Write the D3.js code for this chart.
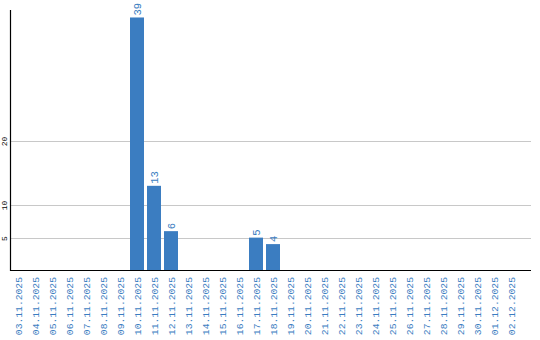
<!DOCTYPE html>
<html>
<head>
<meta charset="utf-8">
<script src="https://cdn.jsdelivr.net/npm/d3@7"></script>
<style>
  body { margin: 0; background: #fff; }
  svg { display: block; }
</style>
</head>
<body>
<div id="chart"></div>
<script>
// categories (dates) and values
var dates = ["03.11.2025","04.11.2025","05.11.2025","06.11.2025","07.11.2025","08.11.2025",
             "09.11.2025","10.11.2025","11.11.2025","12.11.2025","13.11.2025","14.11.2025",
             "15.11.2025","16.11.2025","17.11.2025","18.11.2025","19.11.2025","20.11.2025",
             "21.11.2025","22.11.2025","23.11.2025","24.11.2025","25.11.2025","26.11.2025",
             "27.11.2025","28.11.2025","29.11.2025","30.11.2025","01.12.2025","02.12.2025"];
var counts = [0,0,0,0,0,0,0,39,13,6,0,0,0,0,5,4,0,0,0,0,0,0,0,0,0,0,0,0,0,0];
var yTicks = [5, 10, 20];

var width = 540, height = 340;
var box = {x1: 10.5, x2: 531, y1: 10, y2: 270};
var blue = "#3b7dc1";
var mono = "'Liberation Mono', 'Courier New', monospace";

var svg = d3.select("#chart").append("svg")
  .attr("width", width).attr("height", height);

var x = d3.scaleBand().domain(dates)
  .range([9.5, 9.5 + 17 * dates.length])
  .paddingInner(3/17).paddingOuter(3/34);
var y = d3.scaleLinear().domain([0, 40]).range([box.y2, box.y1 + 1]);

// grid lines
svg.append("g").selectAll("line").data(yTicks).enter().append("line")
  .attr("x1", box.x1).attr("x2", box.x2)
  .attr("y1", function(d){ return Math.round(y(d)) + 0.5; })
  .attr("y2", function(d){ return Math.round(y(d)) + 0.5; })
  .attr("stroke", "#c8c8c8").attr("stroke-width", 1);

// y tick labels (rotated)
svg.append("g").selectAll("text").data(yTicks).enter().append("text")
  .attr("transform", function(d){ return "translate(7," + (Math.round(y(d)) + 0.5) + ") rotate(-90)"; })
  .attr("text-anchor", "middle")
  .style("font-family", mono).style("font-size", "8px")
  .attr("fill", "#000")
  .text(function(d){ return d; });

// bars
svg.append("g").selectAll("rect").data(counts).enter().append("rect")
  .attr("x", function(d, i){ return x(dates[i]); })
  .attr("width", x.bandwidth())
  .attr("y", function(d){ return y(d); })
  .attr("height", function(d){ return box.y2 - y(d); })
  .attr("fill", blue);

// value labels
svg.append("g").selectAll("text").data(counts.map(function(d, i){ return {v: d, k: dates[i]}; })
    .filter(function(d){ return d.v > 0; }))
  .enter().append("text")
  .attr("transform", function(d){
    return "translate(" + (x(d.k) + x.bandwidth()/2 + 3.5) + "," + (y(d.v) - 2) + ") rotate(-90)";
  })
  .attr("text-anchor", "start")
  .style("font-family", mono).style("font-size", "10.5px")
  .attr("fill", blue)
  .text(function(d){ return d.v; });

// axes lines
svg.append("path")
  .attr("d", "M" + box.x1 + "," + box.y1 + " L" + box.x1 + "," + (box.y2 + 0.5) + " L" + box.x2 + "," + (box.y2 + 0.5))
  .attr("fill", "none").attr("stroke", "#000").attr("stroke-width", 1.2);

// x labels
svg.append("g").selectAll("text").data(dates).enter().append("text")
  .attr("transform", function(d){
    return "translate(" + (x(d) + x.bandwidth()/2 + 3.5) + ",277) rotate(-90)";
  })
  .attr("text-anchor", "end")
  .style("font-family", mono).style("font-size", "9.7px")
  .attr("fill", blue)
  .text(function(d){ return d; });
</script>
</body>
</html>
